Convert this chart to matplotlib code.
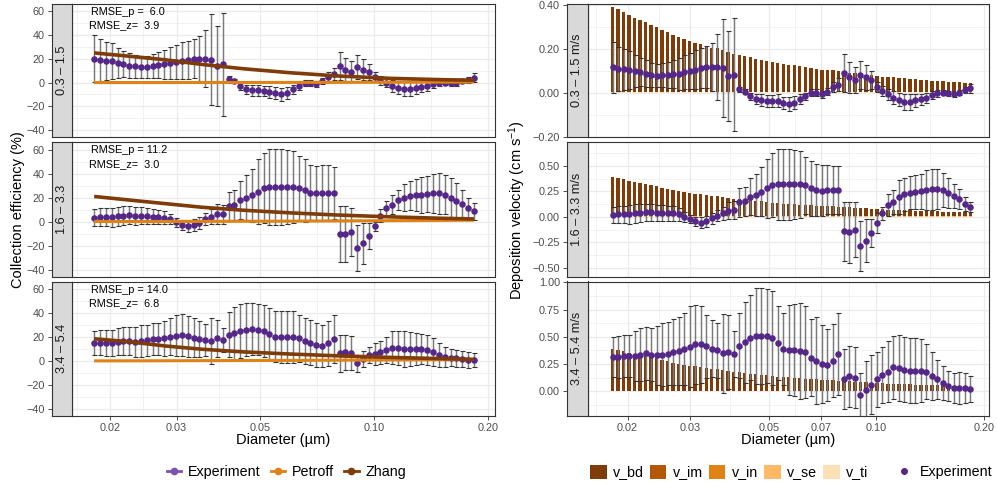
import numpy as np
import matplotlib
matplotlib.use('Agg')
import matplotlib.pyplot as plt
from matplotlib.lines import Line2D
from matplotlib.patches import Patch
from matplotlib.ticker import FuncFormatter, NullFormatter

plt.rcParams['font.family'] = ['Liberation Sans', 'DejaVu Sans']
plt.rcParams['mathtext.fontset'] = 'custom'
plt.rcParams['mathtext.rm'] = 'Liberation Sans'
plt.rcParams['mathtext.it'] = 'Liberation Sans:italic'

# ---- data (diameters in nm) ----
diam_nm = [18.15, 18.81, 19.49, 20.20, 20.93, 21.69, 22.47, 23.29, 24.13, 25.01,
           25.91, 26.85, 27.82, 28.83, 29.88, 30.96, 32.08, 33.25, 34.45, 35.70,
           36.99, 38.33, 39.72, 41.16, 42.65, 44.20, 45.80, 47.46, 49.18, 50.96,
           52.81, 54.73, 56.71, 58.76, 60.89, 63.10, 65.39, 67.76, 70.21, 72.76,
           75.40, 78.13, 80.96, 83.89, 86.94, 90.09, 93.35, 96.73, 100.24, 103.87,
           107.64, 111.54, 115.58, 119.77, 124.11, 128.61, 133.27, 138.10, 143.11, 148.29,
           153.67, 159.24, 165.01, 170.99, 177.19, 183.61]

wind_labels = ['0.3 \u2013 1.5', '1.6 \u2013 3.3', '3.4 \u2013 5.4']

# collection efficiency (%)
eff_low = [20.3, 19.0, 18.6, 18.0, 16.7, 15.8, 14.4, 13.9, 13.0, 13.3,
           14.0, 14.7, 15.3, 16.7, 17.2, 18.6, 19.4, 20.3, 20.3, 20.0,
           19.4, 14.0, 15.3, 3.3, 1.4, -2.8, -5.6, -6.4, -6.4, -7.0,
           -7.8, -8.9, -9.7, -8.9, -5.6, -2.8, 0.0, 0.0, -1.4, 1.4,
           4.7, 7.0, 14.0, 11.0, 9.2, 13.0, 11.0, 8.9, 4.7, 1.9,
           0.0, -2.8, -4.2, -5.0, -5.0, -4.2, -3.3, -2.8, -1.4, 0.0,
           0.0, -0.6, -0.6, 1.4, 2.2, 4.2]
eff_low_err = [20.0, 17.5, 16.0, 15.0, 12.5, 11.0, 10.5, 9.7, 9.0, 9.5,
               10.0, 11.0, 12.5, 13.5, 14.5, 15.5, 16.0, 16.5, 19.0, 24.0,
               38.0, 34.0, 43.0, 2.0, 2.0, 3.0, 4.0, 4.5, 4.5, 4.5,
               5.0, 5.0, 5.5, 5.0, 4.0, 3.0, 2.5, 2.5, 2.5, 2.5,
               4.0, 5.0, 12.0, 10.0, 9.0, 10.0, 9.0, 7.0, 4.0, 4.0,
               4.0, 5.0, 5.0, 6.0, 6.0, 5.0, 4.5, 4.0, 3.0, 2.5,
               2.0, 2.0, 2.0, 2.0, 2.5, 3.5]
eff_mid = [3.4, 3.6, 3.6, 3.6, 4.5, 5.0, 5.3, 5.0, 5.0, 4.7,
           4.2, 3.9, 3.4, 2.2, -0.6, -2.8, -3.4, -2.8, -1.1, 2.2,
           4.2, 6.4, 6.1, 13.0, 14.0, 18.0, 20.0, 22.0, 25.0, 28.0,
           29.0, 29.0, 29.0, 29.0, 29.0, 28.0, 26.0, 24.0, 23.5, 24.0,
           24.0, 24.0, -10.6, -10.6, -9.0, -22.0, -18.0, -12.0, -4.0, 5.0,
           11.0, 14.0, 18.0, 20.0, 21.5, 22.0, 22.5, 23.0, 23.5, 23.5,
           22.5, 20.0, 17.5, 15.0, 11.0, 8.5]
eff_mid_err = [7.0, 7.5, 7.5, 8.0, 8.0, 8.0, 7.5, 7.5, 7.0, 7.0,
               6.5, 6.0, 5.5, 4.5, 3.5, 4.0, 5.0, 5.0, 5.0, 5.0,
               6.0, 8.0, 8.0, 12.0, 12.5, 15.5, 18.5, 22.0, 27.0, 29.0,
               32.0, 32.0, 32.0, 31.0, 30.0, 27.0, 26.0, 23.0, 23.0, 23.0,
               23.0, 22.0, 23.5, 23.5, 20.0, 19.0, 17.0, 11.0, 4.0, 5.6,
               6.0, 8.0, 8.5, 11.0, 12.0, 13.5, 15.0, 15.0, 16.5, 17.0,
               16.5, 16.0, 15.0, 11.5, 8.5, 7.0]
eff_high = [15.3, 15.3, 14.8, 14.8, 16.2, 16.7, 16.7, 16.2, 16.7, 17.3,
            18.1, 18.4, 19.0, 20.4, 21.0, 21.5, 20.7, 19.5, 18.4, 17.6,
            16.7, 19.0, 17.3, 21.8, 23.2, 25.0, 26.2, 26.5, 26.2, 25.0,
            22.6, 20.4, 20.0, 20.0, 19.8, 19.0, 16.7, 15.3, 13.4, 12.6,
            14.8, 18.1, 6.4, 7.3, 6.7, -2.0, 1.7, 5.0, 5.6, 7.3,
            9.2, 11.2, 10.6, 10.0, 10.0, 10.0, 9.8, 9.2, 7.3, 5.0,
            3.6, 2.8, 2.2, 1.7, 0.8, 0.6]
eff_high_err = [10.0, 10.5, 11.0, 11.0, 11.0, 12.0, 12.0, 12.5, 13.0, 13.0,
                13.5, 13.5, 14.5, 15.3, 17.0, 17.5, 17.0, 16.0, 15.0, 13.5,
                19.0, 15.5, 10.0, 18.7, 22.0, 22.5, 22.0, 21.5, 21.0, 22.0,
                21.5, 21.0, 22.0, 22.0, 21.5, 19.5, 19.0, 18.5, 18.0, 17.5,
                18.7, 20.0, 15.4, 14.5, 14.5, 7.0, 6.7, 7.0, 9.2, 9.5,
                11.2, 13.4, 14.0, 14.6, 14.0, 13.2, 12.5, 12.6, 11.7, 9.8,
                8.4, 7.2, 7.0, 6.7, 7.0, 5.8]

# model curves
model_d_nm = [18.15, 22.5, 28.0, 35.0, 45.0, 60.0, 80.0, 110.0, 150.0, 183.6]
zhang_low = [25.0, 22.2, 19.2, 15.3, 11.7, 8.3, 5.6, 3.6, 2.5, 2.0]
zhang_mid = [21.0, 18.0, 15.0, 12.0, 9.5, 7.3, 5.5, 4.0, 2.8, 2.2]
zhang_high = [18.5, 16.0, 12.5, 9.8, 7.6, 5.8, 4.3, 3.0, 2.0, 1.3]
petroff_low = [0.05, 0.05, 0.05, 0.1, 0.1, 0.15, 0.2, 0.3, 0.4, 0.5]
petroff_mid = [0.1, 0.1, 0.15, 0.2, 0.3, 0.4, 0.6, 0.8, 1.0, 1.2]
petroff_high = [0.1, 0.15, 0.2, 0.3, 0.4, 0.5, 0.7, 0.9, 1.1, 1.3]

rmse_p = ['RMSE_p =  6.0', 'RMSE_p = 11.2', 'RMSE_p = 14.0']
rmse_z = ['RMSE_z=  3.9', 'RMSE_z=  3.0', 'RMSE_z=  6.8']

# deposition velocity (cm/s)
vel_low = [0.116, 0.110, 0.107, 0.105, 0.099, 0.095, 0.087, 0.082, 0.078, 0.081,
           0.081, 0.084, 0.087, 0.095, 0.099, 0.105, 0.113, 0.116, 0.116, 0.116,
           0.113, 0.078, 0.082, 0.016, 0.005, -0.016, -0.030, -0.034, -0.037, -0.037,
           -0.037, -0.047, -0.050, -0.045, -0.030, -0.016, 0.000, 0.000, -0.008, 0.005,
           0.025, 0.036, 0.090, 0.071, 0.059, 0.082, 0.070, 0.056, 0.025, 0.008,
           -0.008, -0.022, -0.031, -0.042, -0.042, -0.034, -0.030, -0.026, -0.011, -0.003,
           0.000, -0.003, -0.008, 0.000, 0.012, 0.020]
vel_low_err = [0.116, 0.100, 0.093, 0.087, 0.073, 0.064, 0.061, 0.056, 0.052, 0.055,
               0.058, 0.064, 0.073, 0.078, 0.084, 0.090, 0.093, 0.096, 0.110, 0.150,
               0.225, 0.205, 0.258, 0.012, 0.012, 0.017, 0.023, 0.026, 0.026, 0.026,
               0.029, 0.029, 0.032, 0.029, 0.023, 0.017, 0.015, 0.015, 0.015, 0.015,
               0.023, 0.029, 0.085, 0.070, 0.058, 0.065, 0.058, 0.041, 0.023, 0.023,
               0.023, 0.029, 0.029, 0.035, 0.035, 0.029, 0.026, 0.023, 0.017, 0.015,
               0.012, 0.012, 0.012, 0.012, 0.015, 0.020]
vel_mid = [0.020, 0.026, 0.026, 0.023, 0.033, 0.036, 0.043, 0.043, 0.039, 0.036,
           0.033, 0.033, 0.026, 0.000, -0.023, -0.046, -0.056, -0.043, -0.016, 0.010,
           0.033, 0.059, 0.069, 0.141, 0.151, 0.197, 0.216, 0.246, 0.279, 0.311,
           0.318, 0.318, 0.318, 0.318, 0.318, 0.311, 0.282, 0.262, 0.256, 0.266,
           0.266, 0.266, -0.144, -0.154, -0.128, -0.285, -0.236, -0.161, -0.062, 0.036,
           0.118, 0.148, 0.197, 0.220, 0.239, 0.246, 0.252, 0.262, 0.272, 0.272,
           0.262, 0.233, 0.207, 0.174, 0.125, 0.098]
vel_mid_err = [0.080, 0.085, 0.085, 0.090, 0.090, 0.090, 0.085, 0.085, 0.080, 0.080,
               0.075, 0.070, 0.065, 0.050, 0.040, 0.045, 0.055, 0.055, 0.055, 0.055,
               0.065, 0.085, 0.090, 0.138, 0.145, 0.180, 0.210, 0.240, 0.290, 0.315,
               0.350, 0.354, 0.350, 0.340, 0.330, 0.280, 0.270, 0.256, 0.250, 0.242,
               0.236, 0.236, 0.290, 0.300, 0.270, 0.245, 0.210, 0.140, 0.100, 0.065,
               0.105, 0.118, 0.170, 0.160, 0.165, 0.167, 0.174, 0.197, 0.203, 0.197,
               0.168, 0.144, 0.120, 0.100, 0.070, 0.050]
vel_high = [0.314, 0.317, 0.323, 0.323, 0.323, 0.338, 0.348, 0.338, 0.332, 0.335,
            0.345, 0.363, 0.369, 0.391, 0.409, 0.431, 0.431, 0.415, 0.391, 0.375,
            0.348, 0.360, 0.340, 0.420, 0.450, 0.490, 0.510, 0.510, 0.510, 0.490,
            0.440, 0.390, 0.380, 0.380, 0.370, 0.360, 0.310, 0.280, 0.250, 0.240,
            0.280, 0.340, 0.115, 0.140, 0.125, -0.030, 0.010, 0.060, 0.110, 0.150,
            0.180, 0.220, 0.215, 0.200, 0.190, 0.190, 0.190, 0.180, 0.140, 0.110,
            0.075, 0.050, 0.030, 0.030, 0.030, 0.020]
vel_high_err = [0.185, 0.190, 0.190, 0.190, 0.230, 0.245, 0.240, 0.245, 0.270, 0.290,
                0.290, 0.300, 0.310, 0.330, 0.370, 0.360, 0.350, 0.290, 0.260, 0.250,
                0.360, 0.340, 0.210, 0.300, 0.370, 0.390, 0.440, 0.440, 0.430, 0.430,
                0.340, 0.330, 0.410, 0.420, 0.440, 0.425, 0.350, 0.400, 0.356, 0.330,
                0.335, 0.377, 0.275, 0.280, 0.280, 0.200, 0.270, 0.270, 0.250, 0.260,
                0.280, 0.290, 0.300, 0.300, 0.300, 0.296, 0.287, 0.250, 0.220, 0.180,
                0.155, 0.135, 0.140, 0.145, 0.140, 0.118]

# modelled deposition velocity components (same in every wind class)
v_bd = [0.388, 0.380, 0.366, 0.350, 0.338, 0.330, 0.318, 0.307, 0.298, 0.284,
        0.271, 0.260, 0.250, 0.242, 0.233, 0.225, 0.217, 0.211, 0.200, 0.198,
        0.190, 0.183, 0.175, 0.170, 0.164, 0.157, 0.152, 0.147, 0.143, 0.136,
        0.132, 0.127, 0.124, 0.121, 0.116, 0.112, 0.109, 0.105, 0.102, 0.099,
        0.098, 0.095, 0.091, 0.088, 0.085, 0.082, 0.079, 0.076, 0.073, 0.070,
        0.068, 0.067, 0.065, 0.062, 0.060, 0.057, 0.056, 0.054, 0.051, 0.050,
        0.048, 0.047, 0.045, 0.043, 0.042, 0.040]
v_im = [0.0] * len(v_bd)
v_in = [0.0] * len(v_bd)
v_se = [0.001] * len(v_bd)
v_ti = [0.003] * len(v_bd)
comp_names = ['v_bd', 'v_im', 'v_in', 'v_se', 'v_ti']

# ---- style ----
PURPLE = '#542788'
C_PETROFF = '#E08214'
C_ZHANG = '#7F3B08'
COMP_COLORS = ['#7F3B08', '#B35806', '#E08214', '#FDB863', '#FEE0B6']
GRID = '#EBEBEB'
BORDER = '#333333'
TICKTXT = '#4D4D4D'

W, H = 997, 488
fig = plt.figure(figsize=(W / 100, H / 100), dpi=100)


def px_axes(x0, y0, x1, y1, **kw):
    return fig.add_axes([x0 / W, 1 - y1 / H, (x1 - x0) / W, (y1 - y0) / H], **kw)


def minor_mid(ticks, log=False):
    t = np.log10(ticks) if log else np.asarray(ticks, dtype=float)
    t = np.concatenate([[t[0] - (t[1] - t[0])], t, [t[-1] + (t[-1] - t[-2])]])
    m = (t[:-1] + t[1:]) / 2
    return 10 ** m if log else m


def fmt(dec):
    return FuncFormatter(lambda v, p: f'{v:.{dec}f}'.replace('-', '\u2212'))


def make_panel(x0, x1, top, bot, xlim, ylim, xticks, xlabels, yticks, ydec, label, bottom):
    ax = px_axes(x0 + 20.5, top, x1, bot)
    strip = px_axes(x0, top, x0 + 20.5, bot, sharey=ax)
    ax.set_xscale('log')
    ax.set_xticks(xticks)
    ax.set_xticks(minor_mid(xticks, log=True), minor=True)
    ax.xaxis.set_minor_formatter(NullFormatter())
    ax.set_yticks(yticks)
    ax.set_yticks(minor_mid(yticks), minor=True)
    ax.yaxis.set_major_formatter(fmt(ydec))
    ax.set_xlim(xlim)
    ax.set_ylim(ylim)
    ax.grid(which='major', color=GRID, lw=0.9)
    ax.grid(which='minor', color=GRID, lw=0.45)
    ax.set_axisbelow(True)
    ax.tick_params(axis='y', which='both', left=False, labelleft=False)
    if bottom:
        ax.set_xticklabels(xlabels)
        ax.tick_params(axis='x', which='major', length=3, width=0.6, color=BORDER,
                       labelsize=7.8, labelcolor=TICKTXT, pad=2)
        ax.tick_params(axis='x', which='minor', length=0)
    else:
        ax.tick_params(axis='x', which='both', bottom=False, labelbottom=False)
    for s in ax.spines.values():
        s.set_color(BORDER)
        s.set_linewidth(0.8)

    strip.set_facecolor('#D9D9D9')
    strip.tick_params(axis='x', which='both', bottom=False, labelbottom=False)
    strip.tick_params(axis='y', which='major', length=3, width=0.6, color=BORDER,
                      labelsize=7.8, labelcolor=TICKTXT, pad=2)
    strip.tick_params(axis='y', which='minor', length=0)
    for s in strip.spines.values():
        s.set_color(BORDER)
        s.set_linewidth(0.8)
    strip.text(0.5, 0.5, label, rotation=90, ha='center', va='center',
               transform=strip.transAxes, fontsize=9.2, color='#1A1A1A')
    return ax


def draw_exp(ax, d, y, e):
    eb = ax.errorbar(d, y, yerr=e, fmt='none', ecolor='#7A7A7A', elinewidth=1.05,
                     capsize=1.8, capthick=0.8, zorder=3)
    for cap in eb[1]:
        cap.set_markeredgecolor('#333333')
    ax.plot(d, y, 'o', color=PURPLE, ms=4.7, mec='none', zorder=4)


d = np.array(diam_nm) / 1000.0
md = np.array(model_d_nm) / 1000.0
rows = [(4, 137), (142.3, 276.5), (281.5, 416)]

# ---- left column: collection efficiency ----
eff = [eff_low, eff_mid, eff_high]
eff_err = [eff_low_err, eff_mid_err, eff_high_err]
zhang = [zhang_low, zhang_mid, zhang_high]
petroff = [petroff_low, petroff_mid, petroff_high]
xt_left = [0.02, 0.03, 0.05, 0.10, 0.20]
for i, (top, bot) in enumerate(rows):
    ax = make_panel(51.5, 495, top, bot, (0.01586, 0.2087), (-45.8, 66.2),
                    xt_left, ['0.02', '0.03', '0.05', '0.10', '0.20'],
                    [-40, -20, 0, 20, 40, 60], 0, wind_labels[i], i == 2)
    draw_exp(ax, d, eff[i], eff_err[i])
    ax.plot(md, petroff[i], color=C_PETROFF, lw=2.2, zorder=5, solid_capstyle='butt')
    ax.plot(md, zhang[i], color=C_ZHANG, lw=2.6, zorder=5, solid_capstyle='butt')
    ax.text(0.0178, 59.5, rmse_p[i], fontsize=7.8, ha='left', va='center', color='black')
    ax.text(0.0176, 48.0, rmse_z[i], fontsize=7.8, ha='left', va='center', color='black')

# ---- right column: deposition velocity ----
vel = [vel_low, vel_mid, vel_high]
vel_err = [vel_low_err, vel_mid_err, vel_high_err]
ylims_r = [(-0.202, 0.405), (-0.587, 0.733), (-0.226, 1.008)]
yticks_r = [[-0.2, 0.0, 0.2, 0.4], [-0.5, -0.25, 0.0, 0.25, 0.5], [0.0, 0.25, 0.5, 0.75, 1.0]]
xt_right = [0.02, 0.03, 0.05, 0.07, 0.10, 0.20]
ratio = d[1] / d[0]
bar_left = d * ratio ** -0.31
bar_w = d * ratio ** 0.31 - bar_left
comps = [v_ti, v_se, v_in, v_im, v_bd]
comp_cols = COMP_COLORS[::-1]
for i, (top, bot) in enumerate(rows):
    ax = make_panel(567, 989, top, bot, (0.01543, 0.2070), ylims_r[i],
                    xt_right, ['0.02', '0.03', '0.05', '0.07', '0.10', '0.20'],
                    yticks_r[i], 2, wind_labels[i] + ' m/s', i == 2)
    base = np.zeros(len(d))
    for vals, col in zip(comps, comp_cols):
        ax.bar(bar_left, vals, width=bar_w, bottom=base, align='edge', color=col,
               edgecolor='none', zorder=2)
        base = base + np.array(vals)
    draw_exp(ax, d, vel[i], vel_err[i])

# ---- titles ----
fig.text(18 / W, 1 - 210 / H, 'Collection efficiency (%)', rotation=90,
         ha='center', va='center', fontsize=10.5)
fig.text(517 / W, 1 - 210 / H, 'Deposition velocity (cm s$^{-1}$)', rotation=90,
         ha='center', va='center', fontsize=10.5)
fig.text(283.5 / W, 1 - 440 / H, 'Diameter (\u00b5m)', ha='center', va='center', fontsize=10.5)
fig.text(788.5 / W, 1 - 440 / H, 'Diameter (\u00b5m)', ha='center', va='center', fontsize=10.5)

# ---- legends ----
left_handles = [Line2D([0], [0], color=c, lw=2, marker='o', ms=4.5)
                for c in ['#7B52AE', C_PETROFF, C_ZHANG]]
fig.legend(left_handles, ['Experiment', 'Petroff', 'Zhang'], loc='center',
           bbox_to_anchor=(286.5 / W, 1 - 472 / H), ncol=3, frameon=False, fontsize=10.3,
           handlelength=1.0, handletextpad=0.5, columnspacing=0.7)

fill_handles = [Patch(facecolor=c, edgecolor='none') for c in COMP_COLORS]
fig.legend(fill_handles, comp_names, loc='center', bbox_to_anchor=(729 / W, 1 - 472 / H),
           ncol=5, frameon=False, fontsize=10.3, handlelength=1.15, handleheight=1.15,
           handletextpad=0.42, columnspacing=0.45)
fig.legend([Line2D([], [], ls='none', marker='o', color=PURPLE, ms=4)], ['Experiment'],
           loc='center', bbox_to_anchor=(945 / W, 1 - 472 / H), frameon=False,
           fontsize=10.3, handlelength=1.0, handletextpad=0.6)

fig.savefig('out.png', dpi=100)
